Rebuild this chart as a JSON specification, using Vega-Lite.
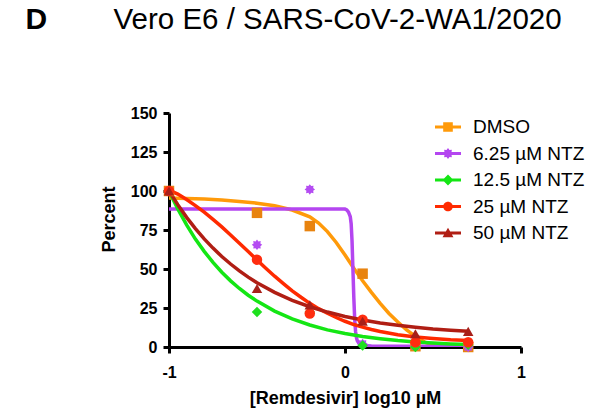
{
  "$schema": "https://vega.github.io/schema/vega-lite/v6.json",
  "width": 352,
  "height": 234,
  "autosize": "none",
  "padding": {"left": 169, "top": 113, "right": 69, "bottom": 63},
  "background": "white",
  "config": {"view": {"stroke": null}, "font": "Liberation Sans", "axis": {"grid": false}},
  "datasets": {
    "pts": [
      {"series": "DMSO", "x": -1, "y": 100}, {"series": "DMSO", "x": -0.5, "y": 86}, {"series": "DMSO", "x": -0.2, "y": 77.5}, {"series": "DMSO", "x": 0.1, "y": 47}, {"series": "DMSO", "x": 0.4, "y": 0.5}, {"series": "DMSO", "x": 0.7, "y": 0},
      {"series": "6.25 µM NTZ", "x": -1, "y": 100}, {"series": "6.25 µM NTZ", "x": -0.5, "y": 65.5}, {"series": "6.25 µM NTZ", "x": -0.2, "y": 101}, {"series": "6.25 µM NTZ", "x": 0.1, "y": 2}, {"series": "6.25 µM NTZ", "x": 0.4, "y": 0.5}, {"series": "6.25 µM NTZ", "x": 0.7, "y": 0},
      {"series": "12.5 µM NTZ", "x": -1, "y": 100}, {"series": "12.5 µM NTZ", "x": -0.5, "y": 22.5}, {"series": "12.5 µM NTZ", "x": -0.2, "y": 22.5}, {"series": "12.5 µM NTZ", "x": 0.1, "y": 1}, {"series": "12.5 µM NTZ", "x": 0.4, "y": 0}, {"series": "12.5 µM NTZ", "x": 0.7, "y": 1.5},
      {"series": "25 µM NTZ", "x": -1, "y": 100}, {"series": "25 µM NTZ", "x": -0.5, "y": 56}, {"series": "25 µM NTZ", "x": -0.2, "y": 21.5}, {"series": "25 µM NTZ", "x": 0.1, "y": 17.5}, {"series": "25 µM NTZ", "x": 0.4, "y": 3}, {"series": "25 µM NTZ", "x": 0.7, "y": 3},
      {"series": "50 µM NTZ", "x": -1, "y": 100}, {"series": "50 µM NTZ", "x": -0.5, "y": 37.5}, {"series": "50 µM NTZ", "x": -0.2, "y": 27}, {"series": "50 µM NTZ", "x": 0.1, "y": 16.5}, {"series": "50 µM NTZ", "x": 0.4, "y": 8.5}, {"series": "50 µM NTZ", "x": 0.7, "y": 10}
    ],
    "fit": [
      {"series": "DMSO", "x": -1, "y": 95.5}, {"series": "DMSO", "x": -0.9, "y": 95.2}, {"series": "DMSO", "x": -0.8, "y": 94.8}, {"series": "DMSO", "x": -0.7, "y": 94.2}, {"series": "DMSO", "x": -0.6, "y": 93.3}, {"series": "DMSO", "x": -0.5, "y": 92.2}, {"series": "DMSO", "x": -0.4, "y": 90.5}, {"series": "DMSO", "x": -0.3, "y": 87.8}, {"series": "DMSO", "x": -0.2, "y": 83.5}, {"series": "DMSO", "x": -0.15, "y": 79.5}, {"series": "DMSO", "x": -0.1, "y": 74}, {"series": "DMSO", "x": -0.05, "y": 67}, {"series": "DMSO", "x": 0, "y": 59}, {"series": "DMSO", "x": 0.05, "y": 50.5}, {"series": "DMSO", "x": 0.1, "y": 42.5}, {"series": "DMSO", "x": 0.15, "y": 35}, {"series": "DMSO", "x": 0.2, "y": 28}, {"series": "DMSO", "x": 0.25, "y": 21.5}, {"series": "DMSO", "x": 0.3, "y": 16}, {"series": "DMSO", "x": 0.35, "y": 11}, {"series": "DMSO", "x": 0.4, "y": 6.8}, {"series": "DMSO", "x": 0.45, "y": 3.3}, {"series": "DMSO", "x": 0.5, "y": 1}, {"series": "DMSO", "x": 0.54, "y": 0},
      {"series": "6.25 µM NTZ", "x": -1, "y": 88.5}, {"series": "6.25 µM NTZ", "x": -0.5, "y": 88.5}, {"series": "6.25 µM NTZ", "x": 0, "y": 88.4}, {"series": "6.25 µM NTZ", "x": 0.01, "y": 87.9}, {"series": "6.25 µM NTZ", "x": 0.02, "y": 86.5}, {"series": "6.25 µM NTZ", "x": 0.03, "y": 83.5}, {"series": "6.25 µM NTZ", "x": 0.035, "y": 79}, {"series": "6.25 µM NTZ", "x": 0.04, "y": 68}, {"series": "6.25 µM NTZ", "x": 0.045, "y": 50}, {"series": "6.25 µM NTZ", "x": 0.05, "y": 32}, {"series": "6.25 µM NTZ", "x": 0.055, "y": 18}, {"series": "6.25 µM NTZ", "x": 0.06, "y": 10}, {"series": "6.25 µM NTZ", "x": 0.065, "y": 6}, {"series": "6.25 µM NTZ", "x": 0.07, "y": 4}, {"series": "6.25 µM NTZ", "x": 0.08, "y": 2.2}, {"series": "6.25 µM NTZ", "x": 0.09, "y": 1.3}, {"series": "6.25 µM NTZ", "x": 0.1, "y": 0.9}, {"series": "6.25 µM NTZ", "x": 0.15, "y": 0.6}, {"series": "6.25 µM NTZ", "x": 0.7, "y": 0.5},
      {"series": "12.5 µM NTZ", "x": -1, "y": 100}, {"series": "12.5 µM NTZ", "x": -0.95, "y": 88.5}, {"series": "12.5 µM NTZ", "x": -0.9, "y": 78.3}, {"series": "12.5 µM NTZ", "x": -0.85, "y": 69.2}, {"series": "12.5 µM NTZ", "x": -0.8, "y": 61.3}, {"series": "12.5 µM NTZ", "x": -0.75, "y": 54.2}, {"series": "12.5 µM NTZ", "x": -0.7, "y": 47.9}, {"series": "12.5 µM NTZ", "x": -0.65, "y": 42.4}, {"series": "12.5 µM NTZ", "x": -0.6, "y": 37.5}, {"series": "12.5 µM NTZ", "x": -0.55, "y": 33.2}, {"series": "12.5 µM NTZ", "x": -0.5, "y": 29.4}, {"series": "12.5 µM NTZ", "x": -0.4, "y": 23}, {"series": "12.5 µM NTZ", "x": -0.3, "y": 18}, {"series": "12.5 µM NTZ", "x": -0.2, "y": 14.1}, {"series": "12.5 µM NTZ", "x": -0.1, "y": 11}, {"series": "12.5 µM NTZ", "x": 0, "y": 8.6}, {"series": "12.5 µM NTZ", "x": 0.1, "y": 6.75}, {"series": "12.5 µM NTZ", "x": 0.2, "y": 5.3}, {"series": "12.5 µM NTZ", "x": 0.3, "y": 4.1}, {"series": "12.5 µM NTZ", "x": 0.4, "y": 3.2}, {"series": "12.5 µM NTZ", "x": 0.5, "y": 2.5}, {"series": "12.5 µM NTZ", "x": 0.6, "y": 2}, {"series": "12.5 µM NTZ", "x": 0.7, "y": 1.55},
      {"series": "25 µM NTZ", "x": -1, "y": 100.5}, {"series": "25 µM NTZ", "x": -0.95, "y": 98}, {"series": "25 µM NTZ", "x": -0.9, "y": 94.5}, {"series": "25 µM NTZ", "x": -0.85, "y": 90.6}, {"series": "25 µM NTZ", "x": -0.8, "y": 86.4}, {"series": "25 µM NTZ", "x": -0.75, "y": 81.8}, {"series": "25 µM NTZ", "x": -0.7, "y": 77}, {"series": "25 µM NTZ", "x": -0.65, "y": 71.8}, {"series": "25 µM NTZ", "x": -0.6, "y": 66.5}, {"series": "25 µM NTZ", "x": -0.55, "y": 61.2}, {"series": "25 µM NTZ", "x": -0.5, "y": 55.8}, {"series": "25 µM NTZ", "x": -0.45, "y": 50.5}, {"series": "25 µM NTZ", "x": -0.4, "y": 45.4}, {"series": "25 µM NTZ", "x": -0.35, "y": 40.6}, {"series": "25 µM NTZ", "x": -0.3, "y": 36}, {"series": "25 µM NTZ", "x": -0.25, "y": 31.9}, {"series": "25 µM NTZ", "x": -0.2, "y": 28}, {"series": "25 µM NTZ", "x": -0.15, "y": 24.6}, {"series": "25 µM NTZ", "x": -0.1, "y": 21.6}, {"series": "25 µM NTZ", "x": -0.05, "y": 18.9}, {"series": "25 µM NTZ", "x": 0, "y": 16.5}, {"series": "25 µM NTZ", "x": 0.05, "y": 14.4}, {"series": "25 µM NTZ", "x": 0.1, "y": 12.7}, {"series": "25 µM NTZ", "x": 0.15, "y": 11.2}, {"series": "25 µM NTZ", "x": 0.2, "y": 9.9}, {"series": "25 µM NTZ", "x": 0.3, "y": 7.8}, {"series": "25 µM NTZ", "x": 0.4, "y": 6.4}, {"series": "25 µM NTZ", "x": 0.5, "y": 5.4}, {"series": "25 µM NTZ", "x": 0.6, "y": 4.6}, {"series": "25 µM NTZ", "x": 0.7, "y": 4.15},
      {"series": "50 µM NTZ", "x": -1, "y": 100}, {"series": "50 µM NTZ", "x": -0.95, "y": 91.2}, {"series": "50 µM NTZ", "x": -0.9, "y": 83.1}, {"series": "50 µM NTZ", "x": -0.85, "y": 75.9}, {"series": "50 µM NTZ", "x": -0.8, "y": 69.3}, {"series": "50 µM NTZ", "x": -0.75, "y": 63.4}, {"series": "50 µM NTZ", "x": -0.7, "y": 58}, {"series": "50 µM NTZ", "x": -0.65, "y": 53.2}, {"series": "50 µM NTZ", "x": -0.6, "y": 48.8}, {"series": "50 µM NTZ", "x": -0.55, "y": 44.8}, {"series": "50 µM NTZ", "x": -0.5, "y": 41.2}, {"series": "50 µM NTZ", "x": -0.4, "y": 35}, {"series": "50 µM NTZ", "x": -0.3, "y": 29.9}, {"series": "50 µM NTZ", "x": -0.2, "y": 25.8}, {"series": "50 µM NTZ", "x": -0.1, "y": 22.4}, {"series": "50 µM NTZ", "x": 0, "y": 19.6}, {"series": "50 µM NTZ", "x": 0.1, "y": 17.3}, {"series": "50 µM NTZ", "x": 0.2, "y": 15.4}, {"series": "50 µM NTZ", "x": 0.3, "y": 13.9}, {"series": "50 µM NTZ", "x": 0.4, "y": 12.7}, {"series": "50 µM NTZ", "x": 0.5, "y": 11.6}, {"series": "50 µM NTZ", "x": 0.6, "y": 10.8}, {"series": "50 µM NTZ", "x": 0.7, "y": 10.1}
    ]
  },
  "resolve": {"scale": {"color": "independent", "shape": "independent"}, "axis": {"x": "independent", "y": "independent"}},
  "layer": [
    {
      "data": {"name": "fit"},
      "mark": {"type": "line", "strokeWidth": 3.5, "clip": true},
      "encoding": {
        "x": {"field": "x", "type": "quantitative", "scale": {"domain": [-1, 1], "nice": false, "zero": false},
          "axis": {"orient": "bottom", "values": [-1, 0, 1], "labelExpr": "'' + datum.value", "domainColor": "black", "domainWidth": 3, "tickColor": "black", "tickWidth": 3, "tickSize": 6, "labelFont": "Liberation Sans", "labelFontSize": 16, "labelFontWeight": "bold", "labelColor": "black", "labelPadding": 11, "labelFlush": false, "title": "[Remdesivir] log10 µM", "titleFont": "Liberation Sans", "titleFontSize": 18, "titleFontWeight": "bold", "titleColor": "black", "titlePadding": 9}},
        "y": {"field": "y", "type": "quantitative", "scale": {"domain": [0, 150], "nice": false, "zero": false},
          "axis": {"orient": "left", "values": [0, 25, 50, 75, 100, 125, 150], "domainColor": "black", "domainWidth": 3, "tickColor": "black", "tickWidth": 3, "tickSize": 6, "labelFont": "Liberation Sans", "labelFontSize": 16, "labelFontWeight": "bold", "labelColor": "black", "labelPadding": 6, "labelFlush": false, "title": "Percent", "titleFont": "Liberation Sans", "titleFontSize": 18, "titleFontWeight": "bold", "titleColor": "black", "titlePadding": 12, "titleY": 106}},
        "color": {"field": "series", "type": "nominal",
          "scale": {"domain": ["DMSO", "6.25 µM NTZ", "12.5 µM NTZ", "25 µM NTZ", "50 µM NTZ"], "range": ["#FF9A0A", "#B446F0", "#14E614", "#FF2A00", "#B01E14"]},
          "legend": {"orient": "none", "legendX": 266, "legendY": 1, "title": null, "symbolSize": 676, "symbolStrokeWidth": 0, "labelFont": "Liberation Sans", "labelFontSize": 19, "labelColor": "black", "labelOffset": 12, "rowPadding": 3.5,
            "encode": {"symbols": {"update": {
              "shape": {"signal": "datum.value === 'DMSO' ? 'M-1,-0.12H1V0.12H-1Z M-0.37,-0.37H0.37V0.37H-0.37Z' : datum.value === '6.25 µM NTZ' ? 'M-1,-0.12H1V0.12H-1Z M0.42,0L0.272,0.113L0.297,0.297L0.113,0.272L0,0.42L-0.113,0.272L-0.297,0.297L-0.272,0.113L-0.42,0L-0.272,-0.113L-0.297,-0.297L-0.113,-0.272L0,-0.42L0.113,-0.272L0.297,-0.297L0.272,-0.113Z' : datum.value === '12.5 µM NTZ' ? 'M-1,-0.12H1V0.12H-1Z M0,-0.42L0.42,0L0,0.42L-0.42,0Z' : datum.value === '25 µM NTZ' ? 'M-1,-0.12H1V0.12H-1Z M0.37,0A0.37,0.37,0,1,1,-0.37,0A0.37,0.37,0,1,1,0.37,0Z' : 'M-1,-0.12H1V0.12H-1Z M0,-0.4L0.42,0.32L-0.42,0.32Z'"},
              "fill": {"signal": "datum.value === 'DMSO' ? '#FF9A0A' : datum.value === '6.25 µM NTZ' ? '#B446F0' : datum.value === '12.5 µM NTZ' ? '#14E614' : datum.value === '25 µM NTZ' ? '#FF2A00' : '#B01E14'"},
              "opacity": {"value": 1},
              "strokeWidth": {"value": 0}
            }}}}
        }
      }
    },
    {
      "data": {"name": "pts"},
      "mark": {"type": "point", "filled": true, "opacity": 1, "size": 110},
      "encoding": {
        "x": {"field": "x", "type": "quantitative", "scale": {"domain": [-1, 1], "nice": false, "zero": false},
          "axis": {"orient": "top", "domain": false, "ticks": false, "labels": false, "title": "Vero E6 / SARS-CoV-2-WA1/2020", "titleFont": "Liberation Sans", "titleFontSize": 29.5, "titleFontWeight": "normal", "titleColor": "black", "titleAnchor": "start", "titleAlign": "left", "titleBaseline": "alphabetic", "titleX": -56, "titleY": -85}},
        "y": {"field": "y", "type": "quantitative", "scale": {"domain": [0, 150], "nice": false, "zero": false},
          "axis": {"orient": "right", "domain": false, "ticks": false, "labels": false, "title": "D", "titleAngle": 0, "titleFont": "Liberation Sans", "titleFontSize": 30, "titleFontWeight": "bold", "titleColor": "black", "titleAnchor": "start", "titleAlign": "left", "titleBaseline": "alphabetic", "titleX": -496, "titleY": -85}},
        "color": {"field": "series", "type": "nominal",
          "scale": {"domain": ["DMSO", "6.25 µM NTZ", "12.5 µM NTZ", "25 µM NTZ", "50 µM NTZ"], "range": ["#E8830F", "#B44CF2", "#1EE01E", "#FF2D0F", "#A8201A"]},
          "legend": null},
        "shape": {"field": "series", "type": "nominal",
          "scale": {"domain": ["DMSO", "6.25 µM NTZ", "12.5 µM NTZ", "25 µM NTZ", "50 µM NTZ"], "range": ["square", "M1,0L0.647,0.268L0.707,0.707L0.268,0.647L0,1L-0.268,0.647L-0.707,0.707L-0.647,0.268L-1,0L-0.647,-0.268L-0.707,-0.707L-0.268,-0.647L0,-1L0.268,-0.647L0.707,-0.707L0.647,-0.268Z", "diamond", "circle", "triangle-up"]},
          "legend": null}
      }
    }
  ]
}
